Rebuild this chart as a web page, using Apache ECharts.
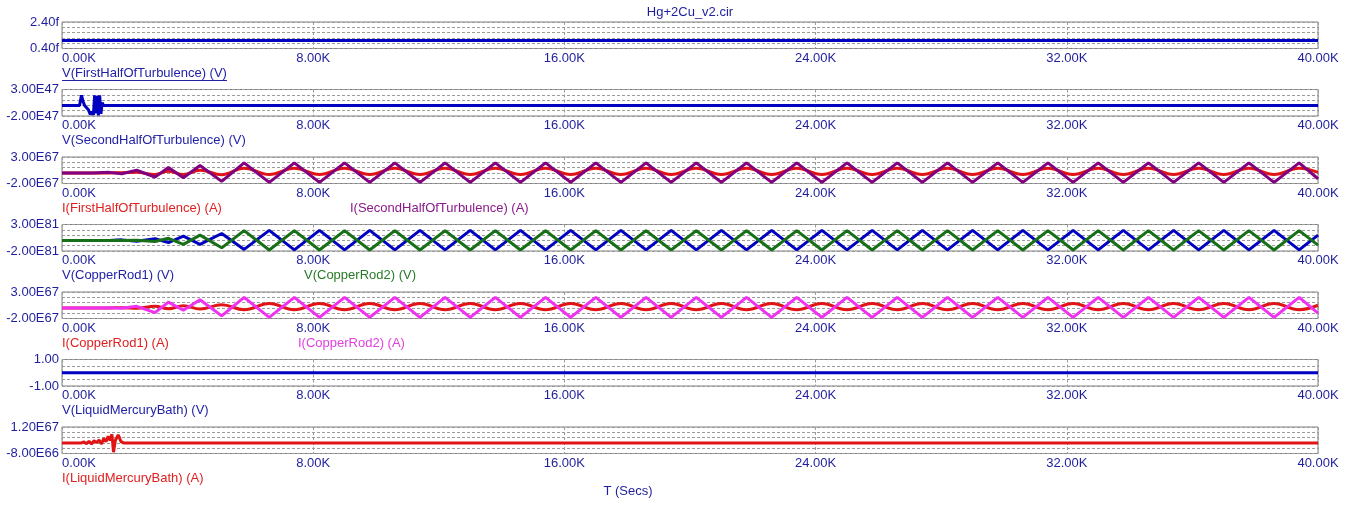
<!DOCTYPE html>
<html>
<head>
<meta charset="utf-8">
<title>Hg+2Cu_v2.cir</title>
<script src="https://cdn.jsdelivr.net/npm/echarts@6/dist/echarts.min.js"></script>
<style>
  html, body { margin: 0; padding: 0; background: #fff; }
  #chart { width: 1353px; height: 513px; }
</style>
</head>
<body>
<div id="chart"></div>
<script>
// time axis ticks
const xTickLabels = ['0.00K', '8.00K', '16.00K', '24.00K', '32.00K', '40.00K'];

// y range labels per panel (top / bottom)
const yTopLabels = ['2.40f', '3.00E47', '3.00E67', '3.00E81', '3.00E67', '1.00', '1.20E67'];
const yBottomLabels = ['0.40f', '-2.00E47', '-2.00E67', '-2.00E81', '-2.00E67', '-1.00', '-8.00E66'];
const yMin = [0.4e-15, -2e47, -2e67, -2e81, -2e67, -1, -8e66];
const yMax = [2.4e-15, 3e47, 3e67, 3e81, 3e67, 1, 1.2e67];
const yDivisions = [5, 5, 5, 5, 5, 4, 5];

// flat traces
const tFlat = [0, 40000];
const vFirstHalf = [1.0e-15, 1.0e-15];
const vLiquidBath = [0, 0];

// V(SecondHalfOfTurbulence), units of 1E47
const tSecondHalf = [0, 560, 620, 680, 720, 780, 840, 900, 950, 1000, 1040, 1080, 1120, 1160, 1200, 1240, 1280, 1320, 1400, 40000];
const vSecondHalf_E47 = [0, 0, 1.9, 0.6, 0, -0.3, -0.8, -1.7, -1.2, -1.8, 1.9, -1.5, 1.8, -1.9, 1.9, -1.6, 0.5, 0, 0, 0];

// I(LiquidMercuryBath), units of 1E66
const tBathI = [0, 620, 700, 780, 860, 940, 1020, 1100, 1180, 1260, 1330, 1400, 1470, 1530, 1590, 1640, 1700, 1790, 1880, 1960, 40000];
const iBath_E66 = [0, 0, 0.8, -0.6, 1.2, -0.8, 1.6, 0.2, 2.2, -0.8, 3.5, 1.0, 5.0, 2.0, 6.5, -7.0, 2.0, 6.0, 1.0, 0, 0];

// oscillating traces, shared vertex times
const tVertex = [0, 1000, 1500, 1900, 2380, 2960, 3390, 3865, 4395, 5086,
  5800, 6600, 7400, 8200, 9000, 9800, 10600, 11400, 12200, 13000,
  13800, 14600, 15400, 16200, 17000, 17800, 18600, 19400, 20200, 21000,
  21800, 22600, 23400, 24200, 25000, 25800, 26600, 27400, 28200, 29000,
  29800, 30600, 31400, 32200, 33000, 33800, 34600, 35400, 36200, 37000,
  37800, 38600, 39400, 40000];

// I(FirstHalfOfTurbulence), 1E67
const iFirstHalf_E67 = [0, 0, 0, 0.05, 0.1, -0.3, 0.3, -0.3, 0.5, -0.35,
  0.9, -0.3, 0.9, -0.3, 0.9, -0.3, 0.9, -0.3, 0.9, -0.3,
  0.9, -0.3, 0.9, -0.3, 0.9, -0.3, 0.9, -0.3, 0.9, -0.3,
  0.9, -0.3, 0.9, -0.3, 0.9, -0.3, 0.9, -0.3, 0.9, -0.3,
  0.9, -0.3, 0.9, -0.3, 0.9, -0.3, 0.9, -0.3, 0.9, -0.3,
  0.9, -0.3, 0.9, 0.1];
// I(SecondHalfOfTurbulence), 1E67
const iSecondHalf_E67 = [0, 0, 0.1, -0.15, 0.5, -0.8, 1.0, -0.9, 1.4, -1.6,
  1.9, -1.8, 1.9, -1.8, 1.9, -1.8, 1.9, -1.8, 1.9, -1.8,
  1.9, -1.8, 1.9, -1.8, 1.9, -1.8, 1.9, -1.8, 1.9, -1.8,
  1.9, -1.8, 1.9, -1.8, 1.9, -1.8, 1.9, -1.8, 1.9, -1.8,
  1.9, -1.8, 1.9, -1.8, 1.9, -1.8, 1.9, -1.8, 1.9, -1.8,
  1.9, -1.8, 1.9, -1.1];
// V(CopperRod1), 1E81
const vCopper1_E81 = [0, 0, 0, 0.1, -0.15, 0.3, -0.4, 0.8, -0.75, 1.3,
  -1.7, 1.9, -1.8, 1.9, -1.8, 1.9, -1.8, 1.9, -1.8, 1.9,
  -1.8, 1.9, -1.8, 1.9, -1.8, 1.9, -1.8, 1.9, -1.8, 1.9,
  -1.8, 1.9, -1.8, 1.9, -1.8, 1.9, -1.8, 1.9, -1.8, 1.9,
  -1.8, 1.9, -1.8, 1.9, -1.8, 1.9, -1.8, 1.9, -1.8, 1.9,
  -1.8, 1.9, -1.8, 1.0];
// V(CopperRod2), 1E81
const vCopper2_E81 = [0, 0, 0, 0, 0.05, -0.2, 0.4, -0.75, 1.0, -1.4,
  1.85, -1.8, 1.85, -1.8, 1.85, -1.8, 1.85, -1.8, 1.85, -1.8,
  1.85, -1.8, 1.85, -1.8, 1.85, -1.8, 1.85, -1.8, 1.85, -1.8,
  1.85, -1.8, 1.85, -1.8, 1.85, -1.8, 1.85, -1.8, 1.85, -1.8,
  1.85, -1.8, 1.85, -1.8, 1.85, -1.8, 1.85, -1.8, 1.85, -1.8,
  1.85, -1.8, 1.85, -0.9];
// I(CopperRod1), 1E67
const iCopper1_E67 = [0, 0, 0, 0.05, -0.05, 0.3, -0.15, 0.4, -0.2, 0.6,
  -0.35, 0.85, -0.35, 0.85, -0.35, 0.85, -0.35, 0.85, -0.35, 0.85,
  -0.35, 0.85, -0.35, 0.85, -0.35, 0.85, -0.35, 0.85, -0.35, 0.85,
  -0.35, 0.85, -0.35, 0.85, -0.35, 0.85, -0.35, 0.85, -0.35, 0.85,
  -0.35, 0.85, -0.35, 0.85, -0.35, 0.85, -0.35, 0.85, -0.35, 0.85,
  -0.35, 0.85, -0.35, 0.5];
// I(CopperRod2), 1E67
const iCopper2_E67 = [0, 0, 0.05, -0.05, 0.3, -0.9, 1.1, -0.45, 1.55, -1.5,
  2.0, -1.8, 2.0, -1.8, 2.0, -1.8, 2.0, -1.8, 2.0, -1.8,
  2.0, -1.8, 2.0, -1.8, 2.0, -1.8, 2.0, -1.8, 2.0, -1.8,
  2.0, -1.8, 2.0, -1.8, 2.0, -1.8, 2.0, -1.8, 2.0, -1.8,
  2.0, -1.8, 2.0, -1.8, 2.0, -1.8, 2.0, -1.8, 2.0, -1.8,
  2.0, -1.8, 2.0, -1.0];

// colours
const BLUE = '#0000c0', RED = '#e01414', PURPLE = '#800080', GREEN = '#176f17', MAGENTA = '#f032f0';
const AXIS_TEXT = '#1e1e9e';
const FONT = 'Liberation Sans, Arial, sans-serif';

// layout
const plotLeft = 62, plotRight = 1318;
const panelTop0 = 22, panelStep = 67.5, panelH = 26.5;

function pts(t, v, unit) {
  return t.map((x, i) => [x, v[i] * unit]);
}

// [panel, name, data, colour, smooth] -- later entries draw on top
const traces = [
  [0, 'V(FirstHalfOfTurbulence) (V)', pts(tFlat, vFirstHalf, 1), BLUE, false],
  [1, 'V(SecondHalfOfTurbulence) (V)', pts(tSecondHalf, vSecondHalf_E47, 1e47), BLUE, false],
  [2, 'I(FirstHalfOfTurbulence) (A)', pts(tVertex, iFirstHalf_E67, 1e67), RED, 0.4],
  [2, 'I(SecondHalfOfTurbulence) (A)', pts(tVertex, iSecondHalf_E67, 1e67), PURPLE, false],
  [3, 'V(CopperRod1) (V)', pts(tVertex, vCopper1_E81, 1e81), BLUE, false],
  [3, 'V(CopperRod2) (V)', pts(tVertex, vCopper2_E81, 1e81), GREEN, false],
  [4, 'I(CopperRod1) (A)', pts(tVertex, iCopper1_E67, 1e67), RED, 0.4],
  [4, 'I(CopperRod2) (A)', pts(tVertex, iCopper2_E67, 1e67), MAGENTA, false],
  [5, 'V(LiquidMercuryBath) (V)', pts(tFlat, vLiquidBath, 1), BLUE, false],
  [6, 'I(LiquidMercuryBath) (A)', pts(tBathI, iBath_E66, 1e66), RED, false]
];

// trace names under each panel: [panel, text, x, colour, underline]
const nameLabels = [
  [0, 'V(FirstHalfOfTurbulence) (V)', 62, '#2222a8', true],
  [1, 'V(SecondHalfOfTurbulence) (V)', 62, '#2222a8', false],
  [2, 'I(FirstHalfOfTurbulence) (A)', 62, '#e02020', false],
  [2, 'I(SecondHalfOfTurbulence) (A)', 350, '#8a1a8a', false],
  [3, 'V(CopperRod1) (V)', 62, '#2222a8', false],
  [3, 'V(CopperRod2) (V)', 304, '#277a27', false],
  [4, 'I(CopperRod1) (A)', 62, '#e02020', false],
  [4, 'I(CopperRod2) (A)', 298, '#e040e0', false],
  [5, 'V(LiquidMercuryBath) (V)', 62, '#2222a8', false],
  [6, 'I(LiquidMercuryBath) (A)', 62, '#e02020', false]
];

const grid = [], xAxis = [], yAxis = [], series = [], graphic = [];
const dash = [3, 2];

for (let i = 0; i < 7; i++) {
  const top = panelTop0 + panelStep * i;
  grid.push({
    left: plotLeft, width: plotRight - plotLeft, top: top, height: panelH,
    show: true, borderColor: '#808080', borderWidth: 1, backgroundColor: 'transparent'
  });
  xAxis.push({
    type: 'value', gridIndex: i, min: 0, max: 40000, interval: 8000,
    axisLine: { show: false }, axisTick: { show: false },
    splitLine: { show: true, lineStyle: { color: '#9c9c9c', width: 1, type: dash } },
    axisLabel: {
      color: AXIS_TEXT, fontSize: 13, fontFamily: FONT, margin: 3,
      alignMinLabel: 'left', formatter: (v, idx) => xTickLabels[idx]
    }
  });
  // data axis
  yAxis.push({
    type: 'value', gridIndex: i, min: yMin[i], max: yMax[i], show: false,
    splitLine: { show: false }
  });
  // grid & range label axis
  const div = yDivisions[i];
  yAxis.push({
    type: 'value', gridIndex: i, min: 0, max: div, interval: 1, position: 'left',
    axisLine: { show: false }, axisTick: { show: false },
    splitLine: { show: true, lineStyle: { color: '#9c9c9c', width: 1, type: dash } },
    axisLabel: {
      color: AXIS_TEXT, fontSize: 13, fontFamily: FONT, margin: 3,
      showMinLabel: true, showMaxLabel: true,
      formatter: v => v === 0 ? yBottomLabels[i] : (v === div ? yTopLabels[i] : '')
    }
  });
}

traces.forEach(([p, name, data, color, smooth]) => {
  series.push({
    type: 'line', name: name, xAxisIndex: p, yAxisIndex: p * 2,
    data: data, showSymbol: false, smooth: smooth,
    lineStyle: { color: color, width: 3 }, itemStyle: { color: color },
    clip: true, animation: false
  });
});

const measure = document.createElement('canvas').getContext('2d');
measure.font = '13px ' + FONT;

nameLabels.forEach(([p, text, x, color, underline]) => {
  const y = panelTop0 + panelStep * p + panelH + 18;
  graphic.push({
    type: 'text', left: x, top: y,
    style: { text: text, fill: color, font: '13px ' + FONT }
  });
  if (underline) {
    const w = measure.measureText(text).width;
    graphic.push({
      type: 'line', shape: { x1: x, y1: y + 14, x2: x + w, y2: y + 14 },
      style: { stroke: color, lineWidth: 1 }
    });
  }
});

graphic.push({
  type: 'text', x: (plotLeft + plotRight) / 2, y: 6,
  style: { text: 'Hg+2Cu_v2.cir', fill: AXIS_TEXT, font: '13px ' + FONT, textAlign: 'center' }
});
graphic.push({
  type: 'text', x: 628, y: 485,
  style: { text: 'T (Secs)', fill: AXIS_TEXT, font: '13px ' + FONT, textAlign: 'center' }
});

const chart = echarts.init(document.getElementById('chart'), null, { renderer: 'canvas' });
chart.setOption({
  animation: false,
  backgroundColor: '#ffffff',
  grid: grid,
  xAxis: xAxis,
  yAxis: yAxis,
  series: series,
  graphic: graphic
});
</script>
</body>
</html>
